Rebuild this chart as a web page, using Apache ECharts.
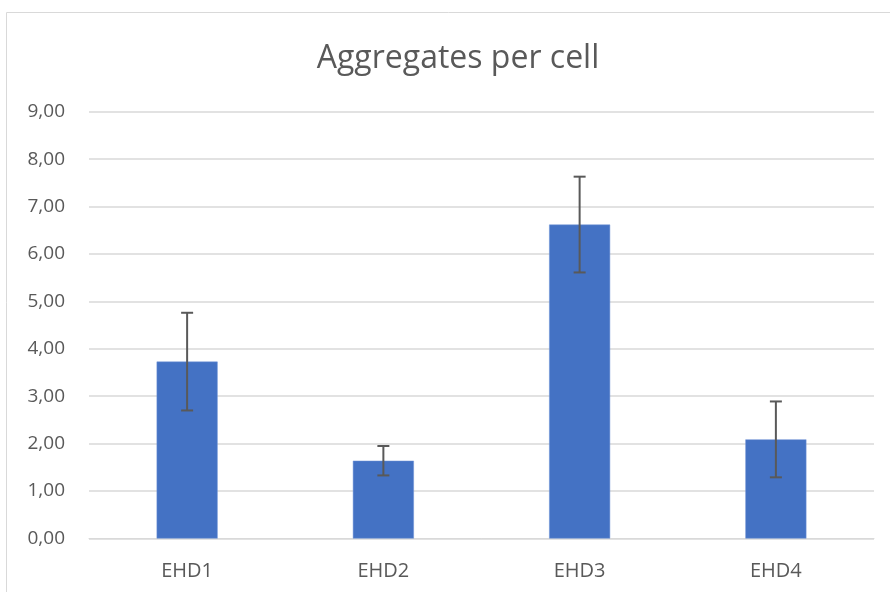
<!DOCTYPE html>
<html><head><meta charset="utf-8">
<script src="https://cdn.jsdelivr.net/npm/echarts@6/dist/echarts.min.js"></script>
<style>html,body{margin:0;padding:0;background:#fff}#c{width:890px;height:592px}</style>
</head><body><div id="c"></div>
<script>
const categories = ['EHD1', 'EHD2', 'EHD3', 'EHD4'];
const means = [3.73, 1.64, 6.62, 2.09];
const errors = [1.03, 0.31, 1.01, 0.80];
const yTicks = { min: 0, max: 9, interval: 1 };

const chart = echarts.init(document.getElementById('c'));
const errData = categories.map((c, i) => [i, means[i] - errors[i], means[i] + errors[i]]);
chart.setOption({
  animation: false,
  title: {
    text: 'Aggregates per cell', left: 453, top: 38, textAlign: 'center',
    textStyle: { fontFamily: 'Open Sans', fontSize: 32, fontWeight: 'normal', color: '#595959' }
  },
  graphic: [{
    type: 'rect', shape: { x: 6.5, y: 12.5, width: 900, height: 600 },
    style: { fill: 'none', stroke: '#d9d9d9', lineWidth: 1 }, silent: true, z: -1
  }],
  grid: { left: 89, right: 16, top: 111.7, bottom: 53.5 },
  xAxis: {
    type: 'category', data: categories,
    axisLine: { lineStyle: { color: '#d9d9d9', width: 1 } },
    axisTick: { show: false },
    axisLabel: { color: '#595959', fontFamily: 'Open Sans', fontSize: 20, margin: 23 }
  },
  yAxis: {
    type: 'value', min: yTicks.min, max: yTicks.max, interval: yTicks.interval,
    axisLine: { show: false }, axisTick: { show: false },
    splitLine: { lineStyle: { color: '#d9d9d9', width: 1.5 } },
    axisLabel: {
      color: '#595959', fontFamily: 'Open Sans', fontSize: 19, margin: 24,
      formatter: v => v.toFixed(2).replace('.', ',')
    }
  },
  series: [{
    type: 'bar', data: means, barWidth: 61,
    itemStyle: { color: '#4472c4', borderColor: '#6f93d6', borderWidth: 0.5 }
  }, {
    type: 'custom', data: errData, z: 10,
    renderItem: (params, api) => {
      const x = api.value(0);
      const lo = api.coord([x, api.value(1)]);
      const hi = api.coord([x, api.value(2)]);
      const hw = 6;
      const st = { stroke: '#595959', lineWidth: 2 };
      return {
        type: 'group', children: [
          { type: 'line', shape: { x1: lo[0], y1: lo[1], x2: hi[0], y2: hi[1] }, style: st },
          { type: 'line', shape: { x1: lo[0] - hw, y1: lo[1], x2: lo[0] + hw, y2: lo[1] }, style: st },
          { type: 'line', shape: { x1: hi[0] - hw, y1: hi[1], x2: hi[0] + hw, y2: hi[1] }, style: st }
        ]
      };
    }
  }]
});
</script></body></html>
